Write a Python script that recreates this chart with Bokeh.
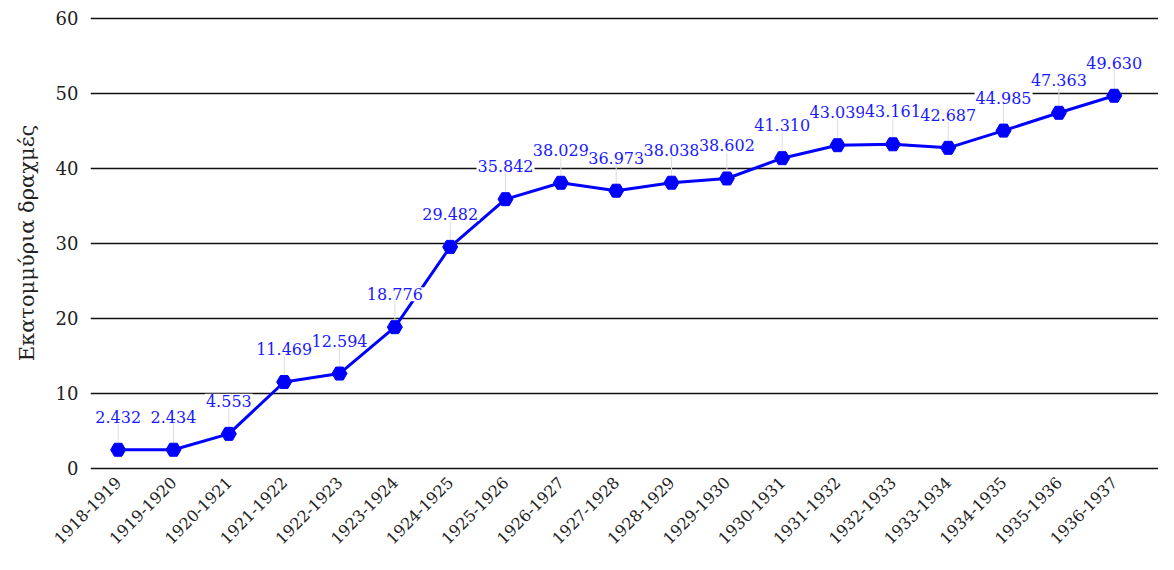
from bokeh.plotting import figure
from bokeh.models import Range1d, FixedTicker, ColumnDataSource
from bokeh.embed import file_html
from bokeh.resources import INLINE
from bokeh.core.properties import value
import math

years = ["1918-1919", "1919-1920", "1920-1921", "1921-1922", "1922-1923", "1923-1924",
         "1924-1925", "1925-1926", "1926-1927", "1927-1928", "1928-1929", "1929-1930",
         "1930-1931", "1931-1932", "1932-1933", "1933-1934", "1934-1935", "1935-1936",
         "1936-1937"]
amounts = [2.432, 2.434, 4.553, 11.469, 12.594, 18.776, 29.482, 35.842, 38.029, 36.973,
           38.038, 38.602, 41.310, 43.039, 43.161, 42.687, 44.985, 47.363, 49.630]
y_ticks = [0, 10, 20, 30, 40, 50, 60]
y_title = "Εκατομμύρια δραχμές"

FONT = "DejaVu Serif"
BLUE = "#0000ff"

xs = list(range(len(years)))
px_per_unit = 7.5
lead = 26 / px_per_unit
src = ColumnDataSource(dict(
    x=xs, y=amounts,
    ytop=[a + lead for a in amounts],
    lbl=[f"{a:.3f}" for a in amounts],
))

p = figure(width=1158, height=554, output_backend="svg", toolbar_location=None,
           x_range=Range1d(-0.5, 18.8), y_range=Range1d(-1, 61),
           min_border_left=90, min_border_right=0, min_border_top=10, min_border_bottom=79)
p.outline_line_color = None
p.background_fill_color = "white"

p.xgrid.visible = False
p.ygrid.ticker = FixedTicker(ticks=y_ticks)
p.ygrid.grid_line_color = "#111111"
p.ygrid.grid_line_width = 1.5

p.yaxis.ticker = FixedTicker(ticks=y_ticks)
p.yaxis.axis_line_color = None
p.yaxis.major_tick_line_color = None
p.yaxis.minor_tick_line_color = None
p.yaxis.major_tick_out = 0
p.yaxis.major_label_standoff = 12
p.yaxis.major_label_text_font = FONT
p.yaxis.major_label_text_font_size = "18px"
p.yaxis.major_label_text_color = "#222222"
p.yaxis.axis_label = y_title
p.yaxis.axis_label_text_font = FONT
p.yaxis.axis_label_text_font_size = "21px"
p.yaxis.axis_label_text_font_style = "normal"
p.yaxis.axis_label_text_color = "#222222"
p.yaxis.axis_label_standoff = 14

p.xaxis.ticker = FixedTicker(ticks=xs)
p.xaxis.major_label_overrides = {i: y for i, y in enumerate(years)}
p.xaxis.major_label_orientation = math.pi / 4
p.xaxis.axis_line_color = None
p.xaxis.major_tick_line_color = None
p.xaxis.minor_tick_line_color = None
p.xaxis.major_tick_out = 0
p.xaxis.major_label_standoff = 4
p.xaxis.major_label_text_font = FONT
p.xaxis.major_label_text_font_size = "16px"
p.xaxis.major_label_text_color = "#222222"

p.segment(x0="x", y0="y", x1="x", y1="ytop", source=src, line_color="#dddddd", line_width=1)
p.line(x="x", y="y", source=src, line_color=BLUE, line_width=3)
p.scatter(x="x", y="y", source=src, marker="hex", size=15, fill_color=BLUE, line_color=BLUE)
p.text(x="x", y="ytop", text="lbl", source=src, text_align="center", text_baseline="bottom",
       text_font=value(FONT), text_font_size="16px", text_color="#1a1aff",
       background_fill_color="white", padding=1)

open("out.html", "w").write(file_html(p, INLINE))
